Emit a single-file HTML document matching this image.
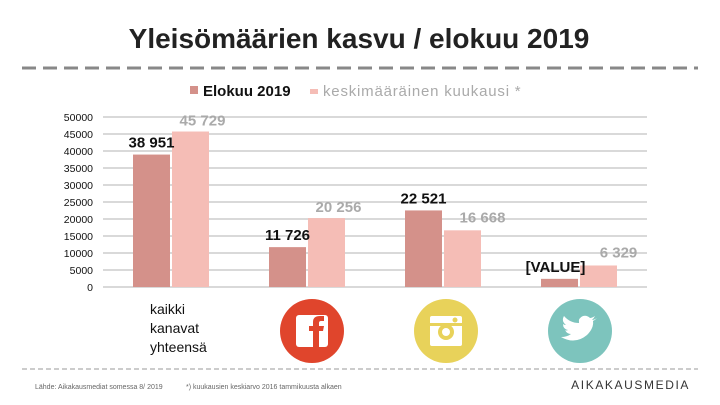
<!DOCTYPE html>
<html><head><meta charset="utf-8"><style>
html,body{margin:0;padding:0;background:#fff;}
svg{display:block;font-family:"Liberation Sans",sans-serif;}
</style></head><body>
<svg width="720" height="405" viewBox="0 0 720 405">
<text x="359" y="48" text-anchor="middle" font-size="28" font-weight="bold" fill="#222">Yleisömäärien kasvu / elokuu 2019</text>
<line x1="22" y1="68" x2="698" y2="68" stroke="#888" stroke-width="3" stroke-dasharray="14 7"/>
<g>
<g><rect x="190" y="86" width="8" height="8" fill="#d4918a"/><text x="203" y="96" font-size="15" font-weight="bold" fill="#111">Elokuu 2019</text></g>
<g><rect x="310" y="89" width="8" height="5" fill="#f5bdb6"/><text x="323" y="96" font-size="15" letter-spacing="0.8" fill="#aaa">keskimääräinen kuukausi *</text></g>
</g>
<g id="grid"></g><g id="bars"></g><g id="labels"></g>
<g font-size="14" fill="#111">
<text x="150" y="314">kaikki</text><text x="150" y="333">kanavat</text><text x="150" y="352">yhteensä</text></g>
<g><circle cx="312" cy="331" r="32" fill="#e0452c"/><rect x="296" y="315" width="32" height="32" rx="3" fill="#fff"/><path d="M313 347 V331 h-4 v-5 h4 v-4 q0-6 7-6 h4 v5 h-3 q-2 0-2 2 v3 h5 l-1 5 h-4 V347 Z" fill="#e0452c"/></g>
<g><circle cx="446" cy="331" r="32" fill="#e8d25a"/><rect x="430" y="316" width="32" height="30" rx="2" fill="#fff"/><circle cx="446" cy="332" r="8" fill="#e8d25a"/><circle cx="446" cy="332" r="4" fill="#fff"/><rect x="430" y="323" width="32" height="3" fill="#e8d25a"/><circle cx="455" cy="320" r="2.5" fill="#e8d25a"/></g>
<g><circle cx="580" cy="331" r="32" fill="#7dc4bd"/><path d="M597 318 q-3 2-5 2 q2-2 3-4 q-3 2-5 2 q-3-3-7-2 q-5 2-4 7 q-9 0-15-7 q-3 5 2 9 q-2 0-3-1 q0 5 5 6 q-2 1-3 0 q2 4 6 4 q-4 3-10 3 q14 8 26-2 q7-7 6-14 q2-1 4-3 z" fill="#fff"/></g>
<line x1="22" y1="369" x2="698" y2="369" stroke="#999" stroke-width="1" stroke-dasharray="5 3"/>
<text x="35" y="389" font-size="7" fill="#666">Lähde: Aikakausmediat somessa 8/ 2019</text>
<text x="186" y="389" font-size="7" fill="#666">*) kuukausien keskiarvo 2016 tammikuusta alkaen</text>
<text x="690" y="389" text-anchor="end" font-size="12" letter-spacing="1.6" fill="#333">AIKAKAUSMEDIA</text>
</svg>
<script>
const categories=["kaikki kanavat yhteensä","facebook","instagram","twitter"];
const elokuu=[38951,11726,22521,2400];
const keskiarvo=[45729,20256,16668,6329];
const elokuuLabels=["38 951","11 726","22 521","[VALUE]"];
const keskiLabels=["45 729","20 256","16 668","6 329"];
const ticks=[0,5000,10000,15000,20000,25000,30000,35000,40000,45000,50000];
const NS="http://www.w3.org/2000/svg";
const x0=103,x1=647,y0=287,y1=117,maxV=50000;
const y=v=>y0-(v/maxV)*(y0-y1);
const band=(x1-x0)/categories.length;
const cx=i=>x0+band*(i+0.5);
function mk(t,a,p){const e=document.createElementNS(NS,t);for(const k in a)e.setAttribute(k,a[k]);p.appendChild(e);return e;}
const g=document.getElementById('grid'),b=document.getElementById('bars'),l=document.getElementById('labels');
ticks.forEach(v=>{
 const ln=mk('line',{x1:x0,x2:x1,y1:y(v),y2:y(v),stroke:'#d9d9d9','stroke-width':2},g);
 
 
 const t=mk('text',{x:93,y:y(v)+4,'text-anchor':'end','font-size':10.5,fill:'#111'},g);
 t.textContent=v;
 
 
});
const bw=37;
categories.forEach((c,i)=>{
 const r1=mk('rect',{x:cx(i)-bw-1,y:y(elokuu[i]),width:bw,height:y0-y(elokuu[i]),fill:'#d4918a'},b);
 
 
 const r2=mk('rect',{x:cx(i)+1,y:y(keskiarvo[i]),width:bw,height:y0-y(keskiarvo[i]),fill:'#f5bdb6'},b);
 
 
 const t1=mk('text',{x:cx(i)-bw/2-1+(i==3?-4:0),y:y(elokuu[i])-7,'text-anchor':'middle','font-size':15,'font-weight':'bold',fill:'#111'},l);
 t1.textContent=elokuuLabels[i];
 
 
 const t2=mk('text',{x:cx(i)+bw/2+1+(i>=2?20:12),y:y(keskiarvo[i])-(i>=2?8:6),'text-anchor':'middle','font-size':15,'font-weight':'bold',fill:'#aaa'},l);
 t2.textContent=keskiLabels[i];
 
 
});
</script>
</body></html>
